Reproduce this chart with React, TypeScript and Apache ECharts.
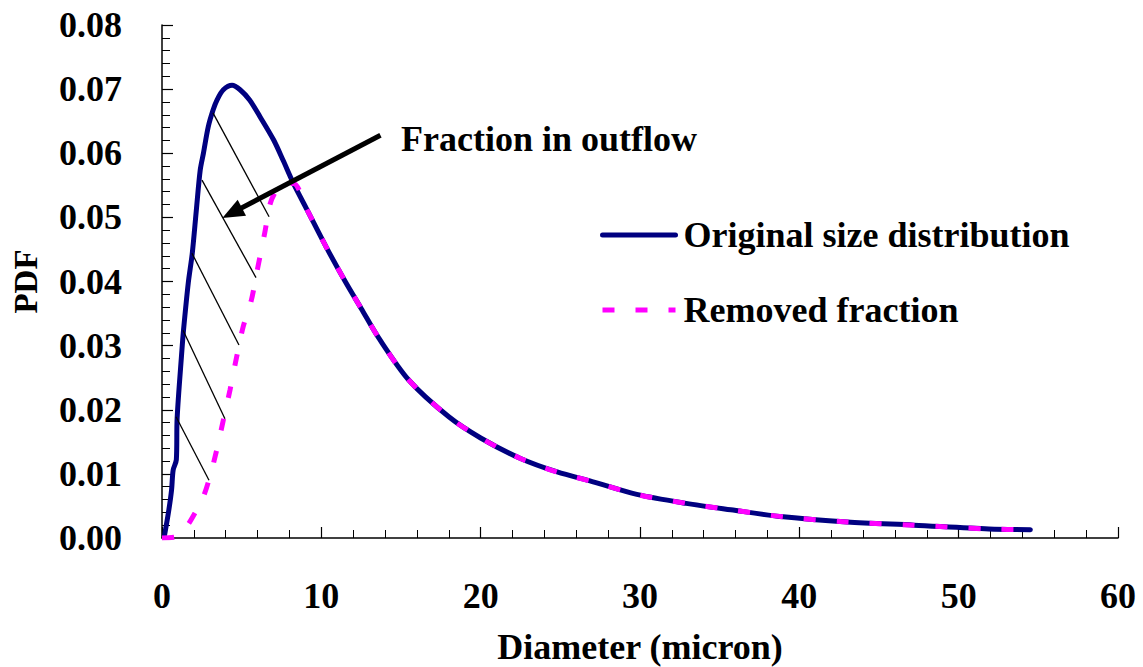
import React, { useEffect, useRef } from "react";
import * as echarts from "echarts";

// Particle size distribution (PDF vs diameter in microns)
const FONT = '"Liberation Serif", "Times New Roman", serif';

// Shared tail where both curves coincide (beyond ~8 micron)
const tailDiameter = [9.1, 10.3, 11.5, 12.5, 13.6, 15.5, 18.0, 20.0, 22.5, 24.8, 27.0, 29.8, 32.9, 35.7, 39.0, 43.0, 47.2, 51.9, 54.5];
const tailPdf = [0.0512, 0.0454, 0.04, 0.0358, 0.0312, 0.0246, 0.0189, 0.0156, 0.0124, 0.0103, 0.0088, 0.0068, 0.0054, 0.0044, 0.0033, 0.0025, 0.002, 0.0014, 0.0013];

// Original size distribution, rising limb and peak
const originalDiameter = [0.15, 0.4, 0.6, 0.7, 0.9, 0.95, 1.25, 1.35, 1.65, 1.9, 2.15, 2.4, 2.6, 2.9, 3.2, 3.45, 3.85, 4.4, 4.9, 5.5, 6.15, 7.0, 7.6, 8.25];
const originalPdf = [0.0003, 0.0039, 0.0075, 0.0106, 0.0122, 0.0187, 0.0293, 0.0324, 0.0398, 0.0444, 0.051, 0.0574, 0.06, 0.0641, 0.0667, 0.0683, 0.0699, 0.0706, 0.0699, 0.0683, 0.0657, 0.0621, 0.0589, 0.0553];

// Removed fraction, rising limb until it joins the original curve
const removedDiameter = [0, 0.9, 1.55, 2.07, 2.59, 3.01, 3.43, 3.85, 4.27, 4.69, 5.1, 5.6, 5.94, 6.45, 6.8, 7.2, 7.65, 8.25];
const removedPdf = [0, 0.0002, 0.0018, 0.0039, 0.0064, 0.0096, 0.0137, 0.0184, 0.0231, 0.0283, 0.033, 0.037, 0.0413, 0.0476, 0.0522, 0.0543, 0.0553, 0.0553];

// Hatching between the two curves: start on the original curve, end on the removed curve
const hatchStart: [number, number][] = [[3.2, 0.0663], [2.51, 0.0558], [1.88, 0.0444], [1.32, 0.0324], [0.88, 0.0189]];
const hatchEnd: [number, number][] = [[6.72, 0.0501], [5.9, 0.0406], [4.83, 0.0301], [3.95, 0.0186], [2.95, 0.009]];

// Arrow pointing into the hatched area
const arrowFrom: [number, number] = [13.71, 0.0628];
const arrowTo: [number, number] = [4.4, 0.0507];

const zip = (xs: number[], ys: number[]) => xs.map((x, i) => [x, ys[i]]);

export default function App() {
  const ref = useRef<HTMLDivElement>(null);

  useEffect(() => {
    if (!ref.current) return;
    const chart = echarts.init(ref.current, null, { renderer: "svg" });

    const originalData = zip([...originalDiameter, ...tailDiameter], [...originalPdf, ...tailPdf]);
    const removedData = zip([...removedDiameter, ...tailDiameter], [...removedPdf, ...tailPdf]);

    const labelStyle = { fontSize: 36, fontWeight: "bold" as const, fontFamily: FONT, color: "#000" };

    const hatchLines = hatchStart.map((s, i) => [
      { coord: s, symbol: "none" },
      { coord: hatchEnd[i], symbol: "none" },
    ]);
    const arrowLine = [
      { coord: arrowFrom, symbol: "none", lineStyle: { width: 5, color: "#000" } },
      { coord: arrowTo, symbol: "triangle", symbolSize: [18, 22], lineStyle: { width: 5, color: "#000" } },
    ];

    chart.setOption({
      animation: false,
      backgroundColor: "#fff",
      grid: { left: 162, right: 25, top: 25, bottom: 129, containLabel: false, outerBoundsMode: "none" },
      legend: {
        orient: "vertical",
        left: 600,
        top: 217,
        padding: 0,
        itemWidth: 73,
        itemHeight: 14,
        itemGap: 39,
        selectedMode: false,
        lineStyle: { width: "inherit" },
        itemStyle: { opacity: 0 },
        textStyle: { ...labelStyle, padding: [0, 0, 0, 3] },
        data: ["Original size distribution", "Removed fraction"],
      },
      xAxis: {
        type: "value",
        min: 0,
        max: 60,
        interval: 10,
        name: "Diameter (micron)",
        nameLocation: "middle",
        nameGap: 91,
        nameTextStyle: labelStyle,
        axisLine: { show: true, onZero: false, lineStyle: { color: "#000", width: 1.5 } },
        axisTick: { show: true, inside: true, length: 11, lineStyle: { color: "#000", width: 1.2 } },
        minorTick: { show: true, splitNumber: 5, length: 8, lineStyle: { color: "#000", width: 1 } },
        axisLabel: { ...labelStyle, margin: 40 },
        splitLine: { show: false },
      },
      yAxis: {
        type: "value",
        min: 0,
        max: 0.08,
        interval: 0.01,
        name: "PDF",
        nameLocation: "middle",
        nameGap: 120,
        nameRotate: 90,
        nameTextStyle: { ...labelStyle, fontSize: 33 },
        axisLine: { show: true, onZero: false, lineStyle: { color: "#000", width: 1.5 } },
        axisTick: { show: true, inside: true, length: 11, lineStyle: { color: "#000", width: 1.2 } },
        minorTick: { show: true, splitNumber: 5, length: 8, lineStyle: { color: "#000", width: 1 } },
        axisLabel: { ...labelStyle, margin: 40, formatter: (v: number) => v.toFixed(2) },
        splitLine: { show: false },
      },
      series: [
        {
          type: "line",
          name: "Original size distribution",
          data: originalData,
          symbol: "none",
          smooth: 0.3,
          z: 2,
          color: "#000080",
          lineStyle: { color: "#000080", width: 5, cap: "round", join: "round" },
          markLine: {
            silent: true,
            animation: false,
            symbol: ["none", "none"],
            label: { show: false },
            lineStyle: { color: "#000", width: 1.3, type: "solid" },
            emphasis: { disabled: true },
            data: [...hatchLines, arrowLine],
          },
        },
        {
          type: "line",
          name: "Removed fraction",
          data: removedData,
          symbol: "none",
          smooth: 0.3,
          z: 3,
          color: "#ff00ff",
          lineStyle: { color: "#ff00ff", width: 5, type: [12, 21] },
        },
      ],
      graphic: [
        {
          type: "text",
          left: 401,
          top: 121,
          style: { text: "Fraction in outflow", font: `bold 36px ${FONT}`, fill: "#000" },
        },
      ],
    });

    return () => chart.dispose();
  }, []);

  return <div ref={ref} style={{ position: "absolute", left: 0, top: 0, width: 1143, height: 667 }} />;
}
